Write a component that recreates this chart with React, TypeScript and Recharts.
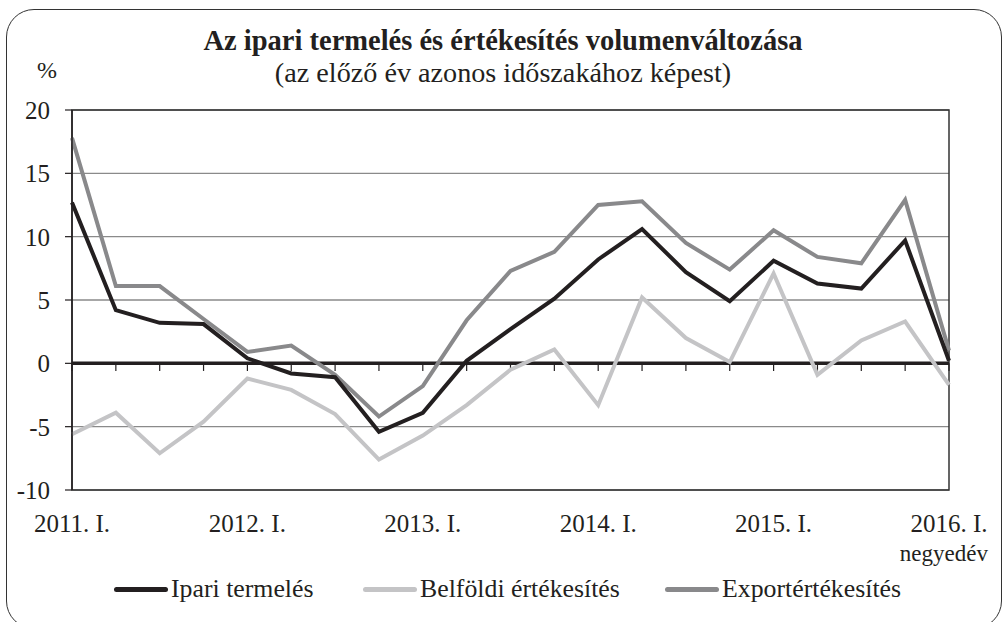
import React from "react";
import {
  CartesianGrid,
  Line,
  LineChart,
  ReferenceArea,
  ReferenceLine,
  XAxis,
  YAxis,
} from "recharts";

const quarters = [
  "2011. I.", "2011. II.", "2011. III.", "2011. IV.",
  "2012. I.", "2012. II.", "2012. III.", "2012. IV.",
  "2013. I.", "2013. II.", "2013. III.", "2013. IV.",
  "2014. I.", "2014. II.", "2014. III.", "2014. IV.",
  "2015. I.", "2015. II.", "2015. III.", "2015. IV.",
  "2016. I.",
];

const ipari = [
  12.7, 4.2, 3.2, 3.1, 0.4, -0.8, -1.1, -5.4, -3.9, 0.2, 2.7,
  5.1, 8.2, 10.6, 7.2, 4.9, 8.1, 6.3, 5.9, 9.7, 0.2,
];
const belfoldi = [
  -5.6, -3.9, -7.1, -4.6, -1.2, -2.1, -4.0, -7.6, -5.7, -3.3, -0.5,
  1.1, -3.3, 5.2, 2.0, 0.1, 7.1, -0.9, 1.8, 3.3, -1.7,
];
const export_ = [
  17.8, 6.1, 6.1, 3.5, 0.9, 1.4, -0.9, -4.2, -1.8, 3.4, 7.3,
  8.8, 12.5, 12.8, 9.5, 7.4, 10.5, 8.4, 7.9, 12.9, 1.0,
];

const yTicks = [-10, -5, 0, 5, 10, 15, 20];

const series = [
  { key: "ipari", name: "Ipari termelés", color: "#231f20" },
  { key: "belfoldi", name: "Belföldi értékesítés", color: "#c4c4c6" },
  { key: "export", name: "Exportértékesítés", color: "#89898b" },
];

const data = quarters.map((q, i) => ({
  q,
  ipari: ipari[i],
  belfoldi: belfoldi[i],
  export: export_[i],
}));

const font = "'Liberation Serif', 'DejaVu Serif', serif";
const legendLeft = [114, 363, 665];

function XTick({ x, y, payload }: any) {
  return (
    <text x={x} y={y} dy={40} textAnchor="middle" fontSize={25} fill="#231f20" style={{ fontFamily: font }}>
      {payload.value}
    </text>
  );
}

export default function App() {
  return (
    <div style={{ position: "absolute", left: 0, top: 0, width: 1006, height: 622, background: "#fff", fontFamily: font, color: "#231f20" }}>
      <div
        style={{
          position: "absolute",
          left: 6,
          top: 9,
          width: 996,
          height: 620,
          border: "1.5px solid #333",
          borderRadius: 28,
          boxSizing: "border-box",
        }}
      />
      <div style={{ position: "absolute", left: 0, width: 1006, top: 25, textAlign: "center", fontSize: 28.5, fontWeight: "bold", lineHeight: "normal", whiteSpace: "nowrap" }}>
        Az ipari termelés és értékesítés volumenváltozása
      </div>
      <div style={{ position: "absolute", left: 0, width: 1006, top: 57, textAlign: "center", fontSize: 28.2, lineHeight: "normal", whiteSpace: "nowrap" }}>
        (az előző év azonos időszakához képest)
      </div>
      <div style={{ position: "absolute", left: 37, top: 57, fontSize: 24, lineHeight: "normal" }}>%</div>
      <div style={{ position: "absolute", right: 18, top: 541, fontSize: 23, lineHeight: "normal" }}>negyedév</div>

      <div style={{ position: "absolute", left: 0, top: 0 }}>
        <LineChart width={1006} height={622} data={data} margin={{ top: 110, right: 57, bottom: 72, left: 22 }}>
          <CartesianGrid vertical={false} stroke="#8a8a8a" strokeWidth={1.3} />
          <XAxis
            dataKey="q"
            scale="point"
            interval={3}
            tickLine={false}
            axisLine={false}
            tickSize={0}
            height={60}
            tick={<XTick />}
          />
          <YAxis
            domain={[-10, 20]}
            ticks={yTicks}
            width={50}
            tickSize={7}
            tickMargin={15}
            axisLine={{ stroke: "#231f20", strokeWidth: 1.5 }}
            tickLine={{ stroke: "#231f20", strokeWidth: 1.2 }}
            tick={{ fontSize: 25, fill: "#231f20", style: { fontFamily: font } }}
          />
          <ReferenceArea
            x1={quarters[0]}
            x2={quarters[quarters.length - 1]}
            y1={-10}
            y2={20}
            fill="none"
            stroke="#333"
            strokeWidth={1.5}
          />
          {quarters.map((q) => (
            <ReferenceLine
              key={q}
              segment={[{ x: q, y: 0 }, { x: q, y: -0.6 }]}
              stroke="#231f20"
              strokeWidth={1.2}
            />
          ))}
          <ReferenceLine y={0} stroke="#231f20" strokeWidth={3.5} />
          <Line dataKey="belfoldi" stroke="#c4c4c6" strokeWidth={4} dot={false} isAnimationActive={false} />
          <Line dataKey="export" stroke="#89898b" strokeWidth={4} dot={false} isAnimationActive={false} />
          <Line dataKey="ipari" stroke="#231f20" strokeWidth={4} dot={false} isAnimationActive={false} />
        </LineChart>
      </div>

      {series.map((s, i) => (
        <div
          key={s.key}
          style={{ position: "absolute", left: legendLeft[i], top: 574, display: "flex", alignItems: "center", fontSize: 25.8, lineHeight: "normal", whiteSpace: "nowrap" }}
        >
          <span style={{ display: "inline-block", width: 54, height: 5, background: s.color, borderRadius: 3, marginRight: 3 }} />
          <span>{s.name}</span>
        </div>
      ))}
    </div>
  );
}
